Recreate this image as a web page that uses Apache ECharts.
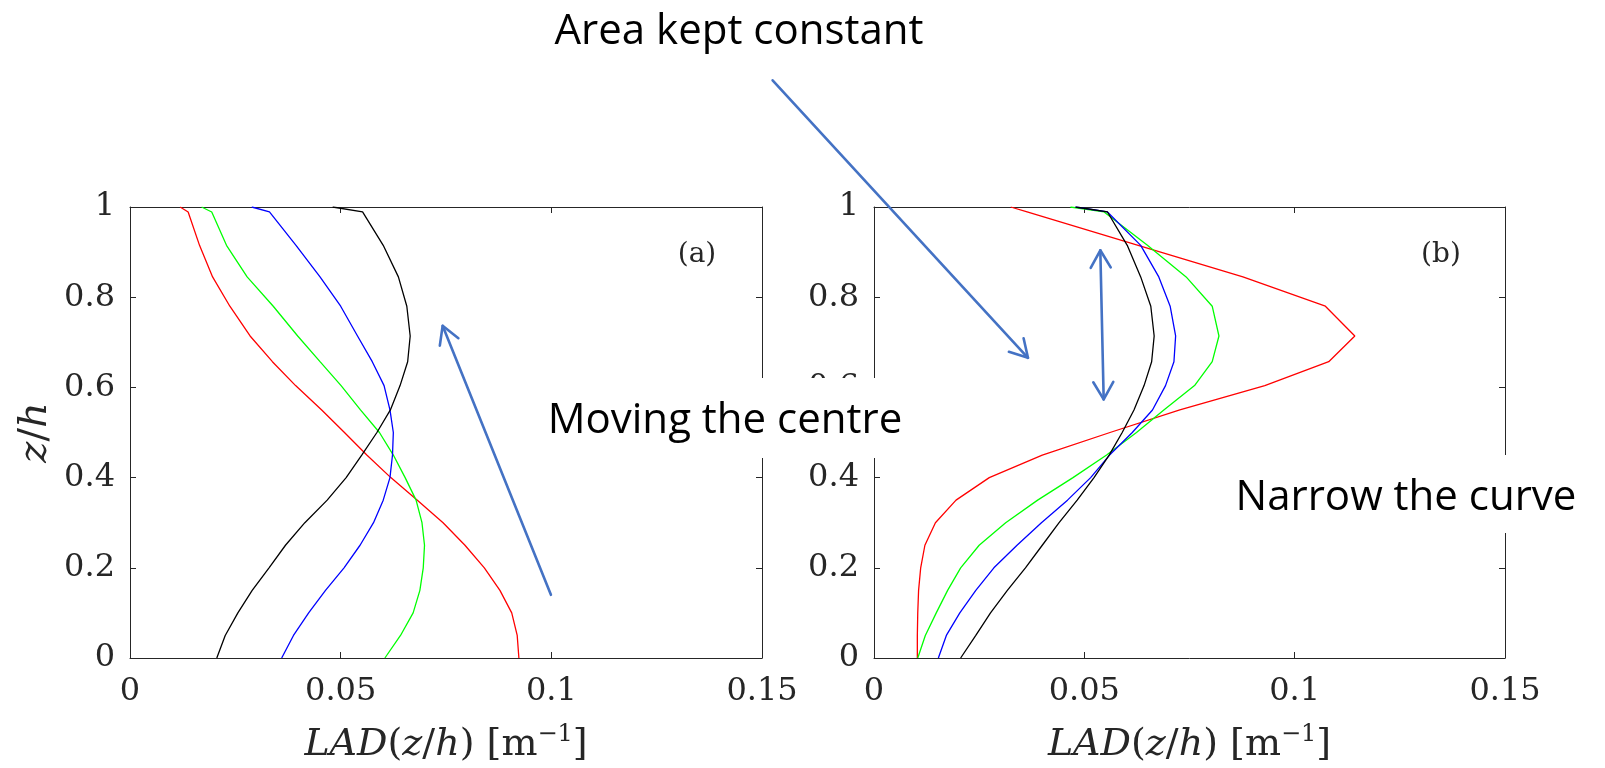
<!DOCTYPE html>
<html>
<head>
<meta charset="utf-8">
<title>LAD profiles</title>
<script src="https://cdn.jsdelivr.net/npm/echarts@6.0.0/dist/echarts.min.js"></script>
<style>
  html, body { margin: 0; padding: 0; background: #fff; }
  #chart { width: 1605px; height: 768px; }
</style>
</head>
<body>
<div id="chart"></div>
<script>
// heights z/h, shared by every profile
const zh = [0, 0.05, 0.1, 0.15, 0.2, 0.25, 0.3, 0.35, 0.4, 0.45, 0.5, 0.55, 0.604, 0.657, 0.714, 0.78, 0.845, 0.915, 0.989, 1];

// (a) moving the centre
const redA   = [0.0923, 0.0919, 0.0906, 0.0878, 0.0841, 0.0795, 0.0743, 0.0682, 0.0619, 0.0562, 0.0509, 0.0455, 0.0393, 0.0338, 0.0285, 0.0237, 0.0196, 0.0165, 0.0138, 0.0119];
const greenA = [0.0605, 0.0642, 0.0672, 0.0688, 0.0696, 0.0699, 0.0693, 0.0679, 0.0653, 0.0625, 0.0592, 0.0547, 0.0501, 0.0451, 0.0398, 0.0340, 0.0278, 0.0229, 0.0194, 0.0170];
const blueA  = [0.0360, 0.0388, 0.0424, 0.0464, 0.0508, 0.0546, 0.0578, 0.0601, 0.0617, 0.0623, 0.0625, 0.0617, 0.0603, 0.0575, 0.0540, 0.0500, 0.0451, 0.0394, 0.0331, 0.0289];
const blackA = [0.0206, 0.0226, 0.0256, 0.0290, 0.0330, 0.0369, 0.0415, 0.0468, 0.0513, 0.0550, 0.0586, 0.0618, 0.0641, 0.0659, 0.0665, 0.0657, 0.0637, 0.0601, 0.0552, 0.0481];

// (b) narrowing the curve
const redB   = [0.0103, 0.0103, 0.0104, 0.0106, 0.0111, 0.0121, 0.0146, 0.0195, 0.0274, 0.0400, 0.0561, 0.0727, 0.0929, 0.1081, 0.1143, 0.1073, 0.0877, 0.0628, 0.0364, 0.0325];
const greenB = [0.0104, 0.0122, 0.0148, 0.0175, 0.0206, 0.0250, 0.0313, 0.0389, 0.0473, 0.0553, 0.0624, 0.0689, 0.0762, 0.0804, 0.0820, 0.0804, 0.0742, 0.0650, 0.0547, 0.0467];
const blueB  = [0.0153, 0.0172, 0.0204, 0.0242, 0.0285, 0.0340, 0.0398, 0.0460, 0.0515, 0.0560, 0.0614, 0.0662, 0.0693, 0.0713, 0.0717, 0.0704, 0.0677, 0.0634, 0.0555, 0.0479];
const blackB = [0.0206, 0.0242, 0.0277, 0.0317, 0.0360, 0.0400, 0.0440, 0.0483, 0.0523, 0.0559, 0.0590, 0.0618, 0.0642, 0.0660, 0.0666, 0.0658, 0.0634, 0.0602, 0.0555, 0.0479];

const xTickLabels = ['0', '0.05', '0.1', '0.15'];
const yTickLabels = ['0', '0.2', '0.4', '0.6', '0.8', '1'];

// annotation arrows, in each panel's data space
const arrows = [
  { panel: 0, from: [0.0999, 0.140], to: [0.0742, 0.7365], both: false },
  { panel: 1, from: [-0.0241, 1.281], to: [0.0366, 0.6656], both: false },
  { panel: 1, from: [0.0546, 0.5735], to: [0.0538, 0.904], both: true }
];

const axisColor = '#262626';
const serif = 'DejaVu Serif';
const arrowBlue = '#4472C4';

const pair = xs => xs.map((x, i) => [x, zh[i]]);

const chart = echarts.init(document.getElementById('chart'));

function xAxes(gridIndex) {
  const line = { lineStyle: { color: axisColor, width: 1 } };
  return [
    {
      gridIndex, type: 'value', position: 'bottom', min: 0, max: 0.15, interval: 0.05,
      axisLine: { show: true, onZero: false, ...line },
      axisTick: { show: true, inside: true, length: 6, ...line },
      splitLine: { show: false },
      axisLabel: {
        margin: 18, color: axisColor, fontFamily: serif, fontSize: 32,
        formatter: (v, i) => xTickLabels[i]
      },
      name: '{i|LAD}({i|z}/{i|h}) [m{s|\u22121}]',
      nameLocation: 'middle',
      nameGap: 65,
      nameTextStyle: {
        color: axisColor, fontFamily: serif, fontSize: 38, lineHeight: 44,
        rich: {
          i: { fontStyle: 'italic', fontFamily: serif, fontSize: 38, color: axisColor },
          s: { fontFamily: serif, fontSize: 24, color: axisColor, verticalAlign: 'top', lineHeight: 24 }
        }
      }
    },
    {
      gridIndex, type: 'value', position: 'top', min: 0, max: 0.15, interval: 0.05,
      axisLine: { show: true, onZero: false, ...line },
      axisTick: { show: true, inside: true, length: 6, ...line },
      splitLine: { show: false },
      axisLabel: { show: false }
    }
  ];
}

function yAxes(gridIndex, withName) {
  const line = { lineStyle: { color: axisColor, width: 1 } };
  const left = {
    gridIndex, type: 'value', position: 'left', min: 0, max: 1, interval: 0.2,
    axisLine: { show: true, onZero: false, ...line },
    axisTick: { show: true, inside: true, length: 6, ...line },
    splitLine: { show: false },
    axisLabel: {
      margin: 15, color: axisColor, fontFamily: serif, fontSize: 32,
      formatter: (v, i) => yTickLabels[i]
    }
  };
  if (withName) {
    left.name = '{i|z}/{i|h}';
    left.nameLocation = 'middle';
    left.nameGap = 74;
    left.nameTextStyle = {
      color: axisColor, fontFamily: serif, fontSize: 40,
      rich: { i: { fontStyle: 'italic', fontFamily: serif, fontSize: 40, color: axisColor } }
    };
  }
  return [
    left,
    {
      gridIndex, type: 'value', position: 'right', min: 0, max: 1, interval: 0.2,
      axisLine: { show: true, onZero: false, ...line },
      axisTick: { show: true, inside: true, length: 6, ...line },
      splitLine: { show: false },
      axisLabel: { show: false }
    }
  ];
}

function profile(name, xs, color, panel) {
  return {
    name, type: 'line', data: pair(xs),
    xAxisIndex: panel * 2, yAxisIndex: panel * 2,
    showSymbol: false, symbol: 'none', smooth: false,
    lineStyle: { color, width: 1.3 },
    emphasis: { disabled: true },
    z: 3
  };
}

const option = {
  animation: false,
  backgroundColor: '#fff',
  grid: [
    { left: 130, top: 207, width: 632, height: 451, containLabel: false, outerBoundsMode: 'none' },
    { left: 874, top: 207, width: 631, height: 451, containLabel: false, outerBoundsMode: 'none' }
  ],
  xAxis: [...xAxes(0), ...xAxes(1)],
  yAxis: [...yAxes(0, true), ...yAxes(1, false)],
  series: [
    profile('red a', redA, '#ff0000', 0),
    profile('green a', greenA, '#00ff00', 0),
    profile('blue a', blueA, '#0000ff', 0),
    profile('black a', blackA, '#000000', 0),
    profile('red b', redB, '#ff0000', 1),
    profile('green b', greenB, '#00ff00', 1),
    profile('blue b', blueB, '#0000ff', 1),
    profile('black b', blackB, '#000000', 1)
  ]
};

chart.setOption(option);

// open "V" arrow head at tip, pointing away from 'from'
function head(tip, from, len, deg) {
  const dx = from[0] - tip[0], dy = from[1] - tip[1];
  const L = Math.hypot(dx, dy), ux = dx / L, uy = dy / L;
  const a = deg * Math.PI / 180, c = Math.cos(a), s = Math.sin(a);
  return [
    [tip[0] + len * (ux * c - uy * s), tip[1] + len * (ux * s + uy * c)],
    tip,
    [tip[0] + len * (ux * c + uy * s), tip[1] + len * (-ux * s + uy * c)]
  ];
}

const stroke = { stroke: arrowBlue, lineWidth: 2.6, fill: null, lineCap: 'round', lineJoin: 'round' };
const graphic = [];
arrows.forEach(a => {
  const finder = { xAxisIndex: a.panel * 2, yAxisIndex: a.panel * 2 };
  const p0 = chart.convertToPixel(finder, a.from);
  const p1 = chart.convertToPixel(finder, a.to);
  graphic.push({ type: 'line', z: 50, shape: { x1: p0[0], y1: p0[1], x2: p1[0], y2: p1[1] }, style: stroke });
  graphic.push({ type: 'polyline', z: 50, shape: { points: head(p1, p0, 20, 30) }, style: stroke });
  if (a.both) {
    graphic.push({ type: 'polyline', z: 50, shape: { points: head(p0, p1, 20, 30) }, style: stroke });
  }
});

const sans = 'Open Sans';
function note(text, cx, cy) {
  return {
    type: 'text', z: 61, x: cx, y: cy,
    style: { text, fill: '#000', font: '42px "' + sans + '"', align: 'center', verticalAlign: 'middle' }
  };
}
graphic.push(
  { type: 'rect', z: 60, shape: { x: 525, y: 378, width: 405, height: 80 }, style: { fill: '#fff' } },
  { type: 'rect', z: 60, shape: { x: 1215, y: 455, width: 390, height: 78 }, style: { fill: '#fff' } },
  note('Area kept constant', 739, 32),
  note('Moving the centre', 725, 421),
  note('Narrow the curve', 1406, 498),
  {
    type: 'text', z: 40, x: 697, y: 255,
    style: { text: '(a)', fill: axisColor, font: '28px "' + serif + '"', align: 'center', verticalAlign: 'middle' }
  },
  {
    type: 'text', z: 40, x: 1441, y: 255,
    style: { text: '(b)', fill: axisColor, font: '28px "' + serif + '"', align: 'center', verticalAlign: 'middle' }
  }
);

chart.setOption({ graphic });
</script>
</body>
</html>
